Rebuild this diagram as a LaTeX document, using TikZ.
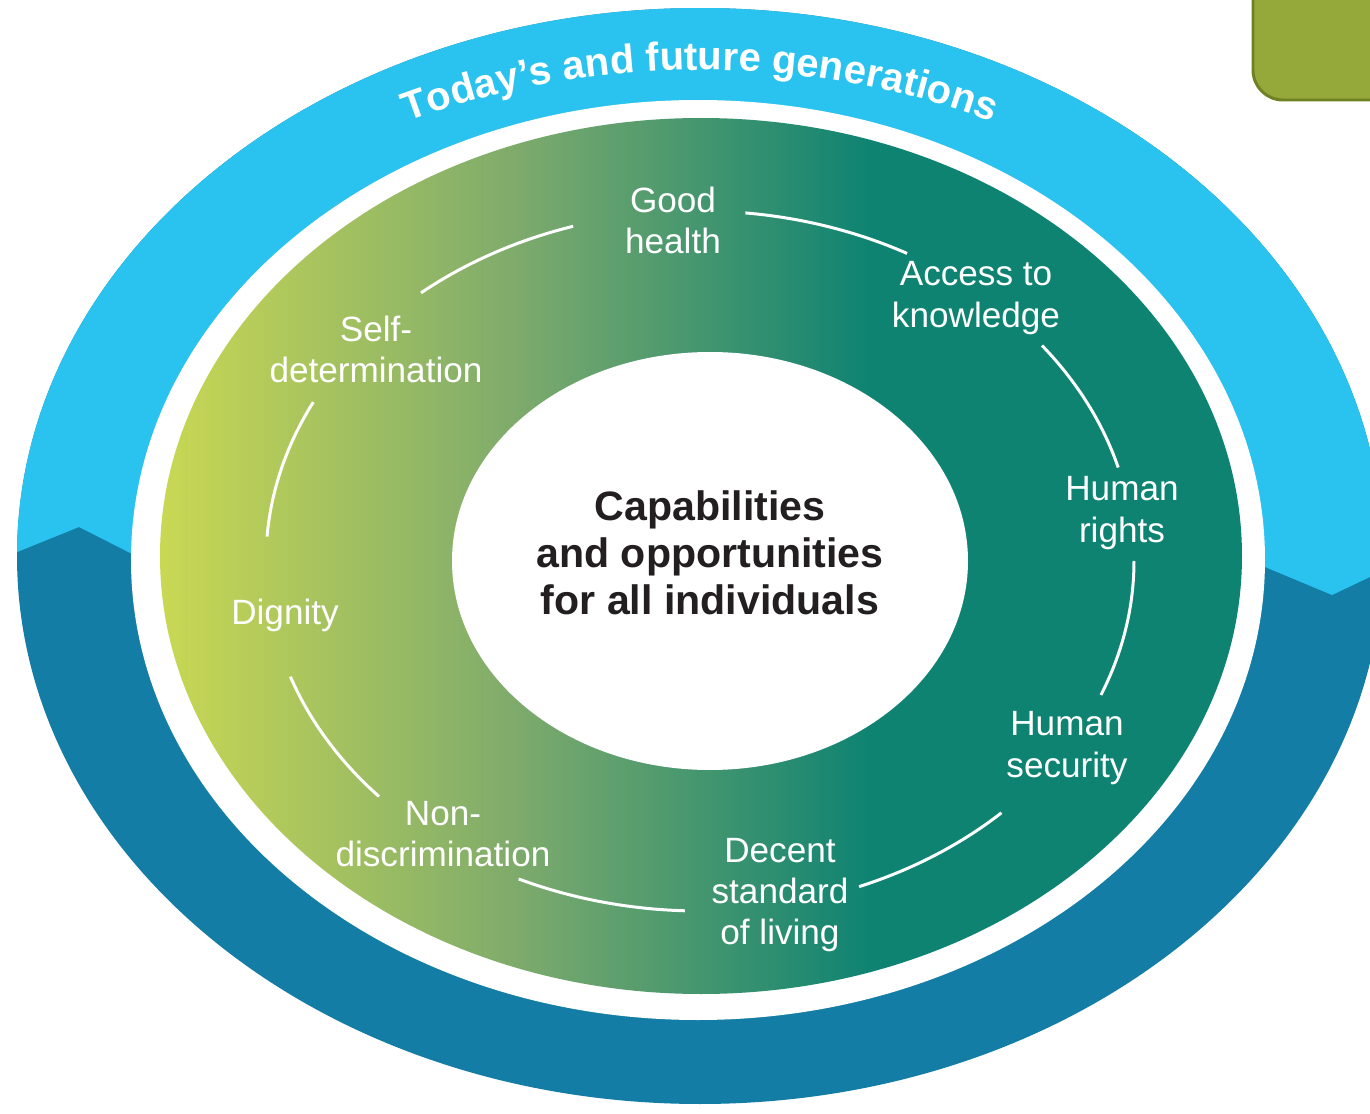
\documentclass[tikz,border=0pt]{standalone}
\usepackage{fontspec}
\setmainfont{Liberation Sans}
\usetikzlibrary{decorations.text}
\definecolor{skyband}{HTML}{2AC2EE}
\definecolor{deepband}{HTML}{137DA5}
\definecolor{limegreen}{HTML}{CBD953}
\definecolor{midgreen}{HTML}{7DAA6C}
\definecolor{tealgreen}{HTML}{0E8372}
\definecolor{olivebox}{HTML}{95A83A}
\definecolor{olivedark}{HTML}{6E8223}
\definecolor{inktext}{HTML}{231F20}
\tikzset{lb/.style={align=center,text=white,inner sep=0pt,font=\fontsize{10}{11.7}\selectfont}}
\tikzset{ar/.style={white,line width=0.85pt}}
\tikzset{cen/.style={align=center,text=inktext,inner sep=0pt,font=\bfseries\fontsize{11.7}{13.4}\selectfont}}

\begin{document}
\begin{tikzpicture}
  \clip (0,0) rectangle (13.70,11.13);
  \coordinate (O) at (7.00,5.57);
  \coordinate (A) at (7.00,5.52);
  % outer band, light above the zigzag, dark below
  \fill[deepband] (O) ellipse[x radius=6.83, y radius=5.48];
  \begin{scope}
    \clip (O) ellipse[x radius=6.83, y radius=5.48];
    \fill[skyband] (0,5.54) -- (0.79,5.86) -- (1.40,5.55) -- (12.65,5.46) -- (13.32,5.18)
      -- (13.70,5.36) -- (13.70,11.13) -- (0,11.13) -- cycle;
  \end{scope}
  % white ring and green field
  \fill[white] (6.98,5.53) ellipse[x radius=5.67, y radius=4.60];
  \begin{scope}
    \clip (7.01,5.57) ellipse[x radius=5.41, y radius=4.38];
    \shade[left color=limegreen, right color=midgreen] (1.50,1) rectangle (5.21,10.2);
    \shade[left color=midgreen, right color=tealgreen] (5.20,1) rectangle (8.71,10.2);
    \fill[tealgreen] (8.70,1) rectangle (12.5,10.2);
  \end{scope}
  \fill[white] (7.10,5.52) ellipse[x radius=2.58, y radius=2.09];
  % olive tab in the corner
  \draw[olivedark, fill=olivebox, line width=0.85pt, rounded corners=0.3cm] (12.53,10.13) rectangle (14.2,11.6);

  \path[decorate, decoration={text along path, text align=center,
      text={|\color{white}\bfseries\fontsize{11.4}{14}\selectfont|Today's and future generations}}]
    ([shift={(150:6.50 and 4.86)}]O) arc[start angle=150, end angle=30, x radius=6.50, y radius=4.86];

  \node[cen] (core) at (7.10,5.60) {Capabilities\\and opportunities\\for all individuals};

      \node[lb] (health) at (6.73,8.93) {Good\\health};
      \node[lb] (knowledge) at (9.76,8.15) {Access to\\knowledge};
      \node[lb] (rights) at (11.22,6.00) {Human\\rights};
      \node[lb] (security) at (10.67,3.65) {Human\\security};
      \node[lb] (living) at (7.80,2.18) {Decent\\standard\\of living};
      \node[lb] (nondiscr) at (4.43,2.79) {Non-\\discrimination};
      \node[lb] (dignity) at (2.85,4.98) {Dignity};
      \node[lb] (selfdet) at (3.76,7.64) {Self-\\determination};

  % arcs between the labels
  \foreach \s/\e in {130/107, 84/61.5, 38/15.5, 0/-22.5, -46/-68.5, -92/-114.7, -137.7/-160.7, 176/153}
    \draw[ar] ([shift={(\s:4.34 and 3.50)}]A) arc[start angle=\s, end angle=\e, x radius=4.34, y radius=3.50];
\end{tikzpicture}
\end{document}
